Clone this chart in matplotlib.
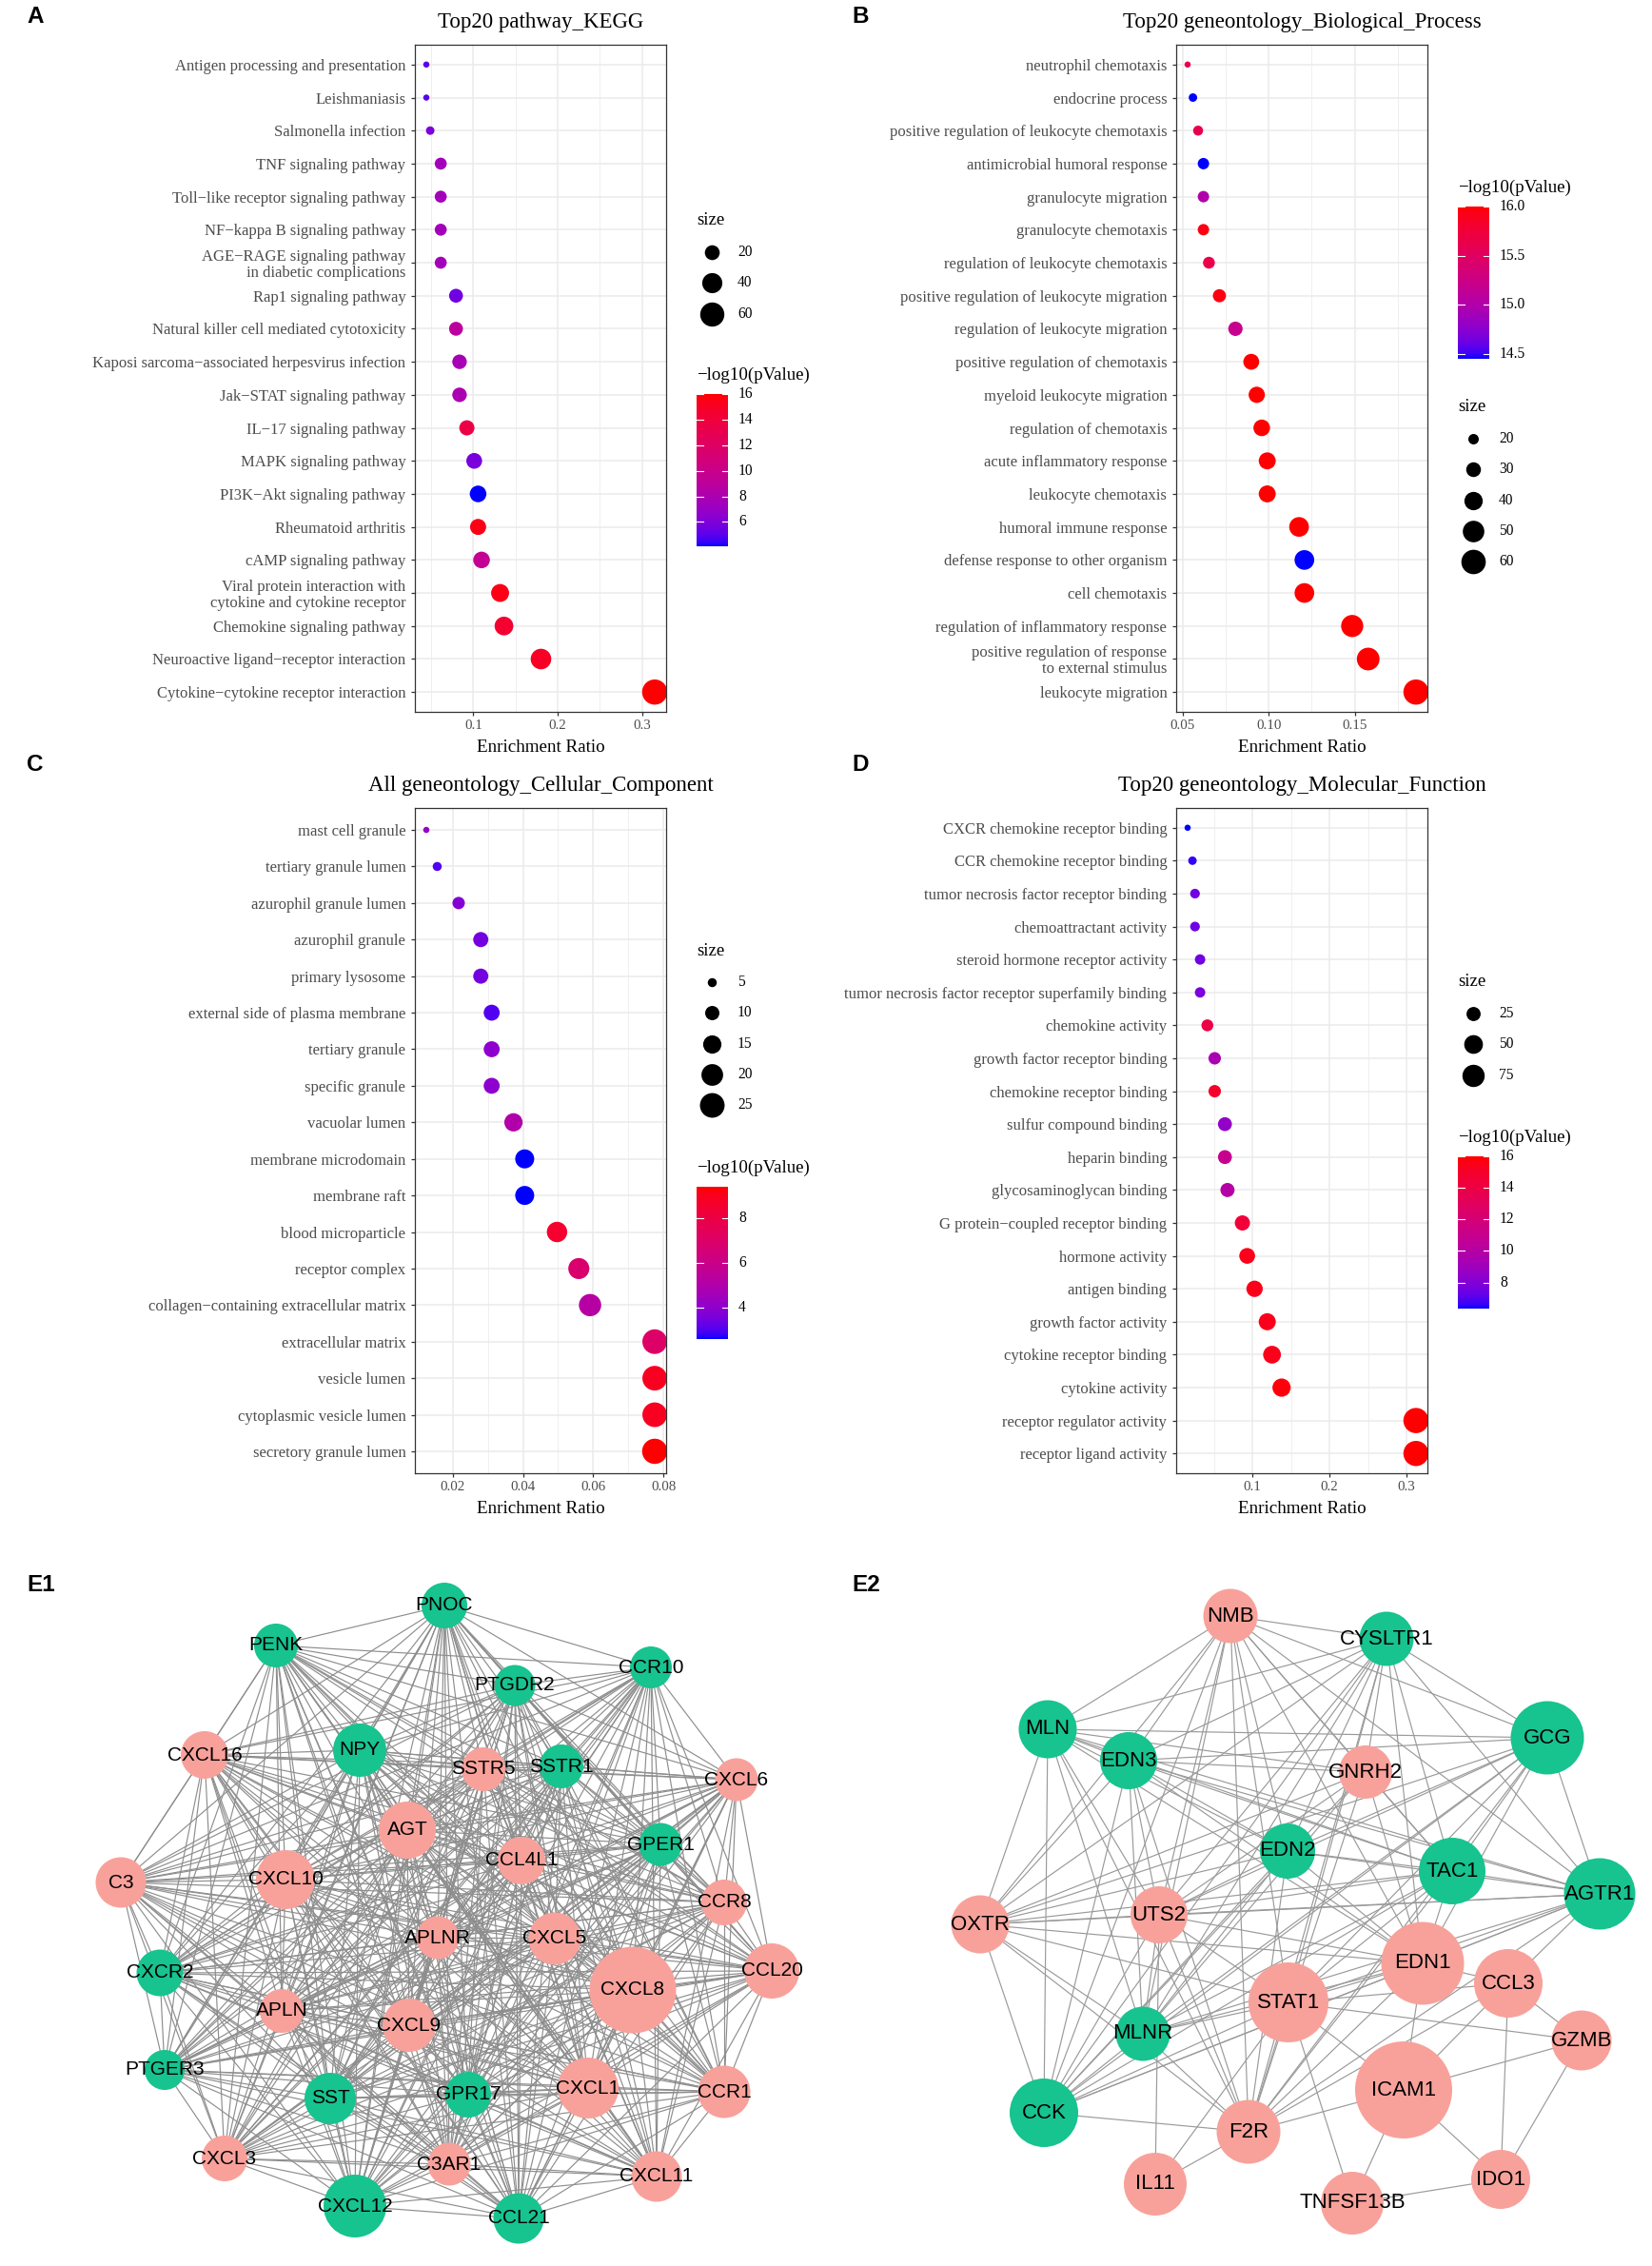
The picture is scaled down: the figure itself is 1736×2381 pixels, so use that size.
import itertools
import numpy as np
import matplotlib
matplotlib.use("Agg")
import matplotlib.pyplot as plt
from matplotlib.colors import ListedColormap, Normalize
from matplotlib.collections import LineCollection
from matplotlib.patches import Circle

W, H = 1736, 2381
DPI = 100
SERIF = "Liberation Serif"
SANS = "Liberation Sans"
plt.rcParams["font.family"] = [SERIF, "DejaVu Serif"]

# ---------------- A: KEGG ----------------
kegg_terms = ["Antigen processing and presentation", "Leishmaniasis", "Salmonella infection",
              "TNF signaling pathway", "Toll\u2212like receptor signaling pathway",
              "NF\u2212kappa B signaling pathway",
              "AGE\u2212RAGE signaling pathway\nin diabetic complications",
              "Rap1 signaling pathway", "Natural killer cell mediated cytotoxicity",
              "Kaposi sarcoma\u2212associated herpesvirus infection", "Jak\u2212STAT signaling pathway",
              "IL\u221217 signaling pathway", "MAPK signaling pathway", "PI3K\u2212Akt signaling pathway",
              "Rheumatoid arthritis", "cAMP signaling pathway",
              "Viral protein interaction with\ncytokine and cytokine receptor",
              "Chemokine signaling pathway", "Neuroactive ligand\u2212receptor interaction",
              "Cytokine\u2212cytokine receptor interaction"]
kegg_ratio = [0.0443, 0.0443, 0.0489, 0.0614, 0.0614, 0.0614, 0.0614, 0.0795, 0.0795, 0.0837,
              0.0837, 0.0924, 0.1011, 0.1057, 0.1057, 0.1098, 0.1318, 0.1364, 0.1803, 0.3152]
kegg_size = [2, 2, 5, 12, 12, 12, 12, 17, 17, 19, 19, 21, 23, 26, 24, 26, 31, 34, 42, 66]
kegg_logp = [5.0, 5.0, 6.0, 7.5, 7.5, 7.5, 7.5, 5.5, 9.0, 7.8,
             8.0, 13.5, 5.8, 4.1, 15.5, 9.5, 15.5, 14.5, 15.0, 16.0]

# ---------------- B: Biological process ----------------
bp_terms = ["neutrophil chemotaxis", "endocrine process",
            "positive regulation of leukocyte chemotaxis", "antimicrobial humoral response",
            "granulocyte migration", "granulocyte chemotaxis", "regulation of leukocyte chemotaxis",
            "positive regulation of leukocyte migration", "regulation of leukocyte migration",
            "positive regulation of chemotaxis", "myeloid leukocyte migration",
            "regulation of chemotaxis", "acute inflammatory response", "leukocyte chemotaxis",
            "humoral immune response", "defense response to other organism", "cell chemotaxis",
            "regulation of inflammatory response",
            "positive regulation of response\nto external stimulus", "leukocyte migration"]
bp_ratio = [0.0528, 0.0559, 0.0589, 0.0620, 0.0620, 0.0620, 0.0652, 0.0713, 0.0806, 0.0898,
            0.0930, 0.0959, 0.0991, 0.0991, 0.1176, 0.1207, 0.1207, 0.1485, 0.1578, 0.1856]
bp_size = [12, 16, 19, 22, 22, 22, 23, 26, 29, 33, 34, 35, 36, 36, 44, 44, 44, 52, 54, 63]
bp_logp = [15.6, 14.45, 15.6, 14.45, 15.0, 15.95, 15.65, 15.95, 15.2, 16.0,
           16.0, 16.0, 16.0, 16.0, 16.0, 14.45, 16.0, 16.0, 16.0, 16.0]

# ---------------- C: Cellular component ----------------
cc_terms = ["mast cell granule", "tertiary granule lumen", "azurophil granule lumen",
            "azurophil granule", "primary lysosome", "external side of plasma membrane",
            "tertiary granule", "specific granule", "vacuolar lumen", "membrane microdomain",
            "membrane raft", "blood microparticle", "receptor complex",
            "collagen\u2212containing extracellular matrix", "extracellular matrix",
            "vesicle lumen", "cytoplasmic vesicle lumen", "secretory granule lumen"]
cc_ratio = [0.0125, 0.0156, 0.0217, 0.0280, 0.0280, 0.0311, 0.0311, 0.0311, 0.0373, 0.0405,
            0.0405, 0.0497, 0.0559, 0.0591, 0.0775, 0.0775, 0.0775, 0.0775]
cc_size = [3, 5, 8, 11, 11, 12, 12, 12, 15, 16, 16, 18, 19, 21, 25, 25, 25, 26]
cc_logp = [4.2, 3.0, 3.8, 3.5, 3.5, 3.0, 4.0, 4.0, 5.0, 2.6,
           2.6, 8.6, 6.8, 5.2, 7.0, 8.9, 8.9, 9.4]

# ---------------- D: Molecular function ----------------
mf_terms = ["CXCR chemokine receptor binding", "CCR chemokine receptor binding",
            "tumor necrosis factor receptor binding", "chemoattractant activity",
            "steroid hormone receptor activity",
            "tumor necrosis factor receptor superfamily binding", "chemokine activity",
            "growth factor receptor binding", "chemokine receptor binding",
            "sulfur compound binding", "heparin binding", "glycosaminoglycan binding",
            "G protein\u2212coupled receptor binding", "hormone activity", "antigen binding",
            "growth factor activity", "cytokine receptor binding", "cytokine activity",
            "receptor regulator activity", "receptor ligand activity"]
mf_ratio = [0.0156, 0.0219, 0.0252, 0.0252, 0.0318, 0.0318, 0.0413, 0.0508, 0.0508, 0.0641,
            0.0641, 0.0674, 0.0868, 0.0930, 0.1026, 0.1191, 0.1253, 0.1377, 0.3124, 0.3124]
mf_size = [2, 6, 9, 9, 11, 11, 16, 18, 18, 24, 24, 25, 30, 33, 36, 40, 44, 47, 100, 100]
mf_logp = [6.35, 6.6, 7.5, 7.5, 7.5, 7.8, 14.0, 9.5, 15.0, 8.5,
           11.0, 10.0, 14.5, 15.5, 15.5, 15.5, 15.5, 15.8, 16.0, 16.0]

# ---------------- E1 network ----------------
e1_names = ["PNOC", "PENK", "CCR10", "PTGDR2", "CXCL16", "NPY", "SSTR5", "SSTR1", "CXCL6", "AGT",
            "GPER1", "CCL4L1", "C3", "CXCL10", "CCR8", "APLNR", "CXCL5", "CXCL8", "CCL20", "CXCR2",
            "APLN", "CXCL9", "PTGER3", "SST", "GPR17", "CXCL1", "CCR1", "CXCL3", "C3AR1", "CXCL11",
            "CXCL12", "CCL21"]
e1_x = [467, 290, 684, 541, 215, 378, 508, 590, 774, 428, 694, 548, 127, 300, 761, 460, 583, 665,
        811, 168, 296, 430, 173, 347, 492, 618, 761, 236, 472, 690, 373, 545]
e1_y = [1687, 1729, 1752, 1771, 1844, 1839, 1859, 1856, 1870, 1923, 1938, 1955, 1978, 1975, 1999,
        2036, 2037, 2091, 2071, 2073, 2113, 2128, 2175, 2205, 2201, 2194, 2198, 2268, 2274, 2287,
        2318, 2331]
e1_diam = [48, 46, 44, 43, 50, 56, 46, 46, 45, 60, 45, 50, 53, 62, 48, 45, 55, 91, 58, 49, 46, 56,
           42, 54, 48, 64, 55, 48, 45, 53, 66, 53]
e1_green = ["PNOC", "PENK", "CCR10", "PTGDR2", "NPY", "SSTR1", "GPER1", "CXCR2", "PTGER3", "SST",
            "GPR17", "CXCL12", "CCL21"]
# E1 is so dense that it is drawn as fully connected

# ---------------- E2 network ----------------
e2_names = ["NMB", "CYSLTR1", "MLN", "EDN3", "GCG", "GNRH2", "EDN2", "TAC1", "AGTR1", "OXTR",
            "UTS2", "EDN1", "CCL3", "STAT1", "GZMB", "MLNR", "ICAM1", "CCK", "F2R", "IL11",
            "TNFSF13B", "IDO1"]
e2_x = [1293, 1457, 1101, 1186, 1626, 1435, 1353, 1526, 1681, 1030, 1218, 1495, 1585, 1354, 1662,
        1201, 1475, 1097, 1312, 1214, 1421, 1577]
e2_y = [1698, 1722, 1817, 1850, 1826, 1862, 1945, 1966, 1990, 2022, 2012, 2063, 2084, 2104, 2144,
        2137, 2196, 2220, 2240, 2295, 2315, 2290]
e2_diam = [57, 57, 61, 60, 77, 56, 58, 70, 75, 61, 60, 87, 72, 84, 63, 57, 102, 72, 67, 66, 66, 62]
e2_green = ["CYSLTR1", "MLN", "EDN3", "GCG", "EDN2", "TAC1", "AGTR1", "MLNR", "CCK"]
e2_edges = [
    ("NMB", "MLN"), ("NMB", "EDN3"), ("NMB", "OXTR"), ("NMB", "CCK"), ("NMB", "MLNR"), ("NMB", "UTS2"),
    ("NMB", "F2R"), ("NMB", "EDN2"), ("NMB", "STAT1"), ("NMB", "EDN1"), ("NMB", "TAC1"),
    ("NMB", "GNRH2"), ("NMB", "CYSLTR1"), ("NMB", "GCG"), ("NMB", "AGTR1"),
    ("CYSLTR1", "MLN"), ("CYSLTR1", "EDN3"), ("CYSLTR1", "OXTR"), ("CYSLTR1", "UTS2"),
    ("CYSLTR1", "MLNR"), ("CYSLTR1", "CCK"), ("CYSLTR1", "F2R"), ("CYSLTR1", "EDN2"),
    ("CYSLTR1", "STAT1"), ("CYSLTR1", "EDN1"), ("CYSLTR1", "TAC1"), ("CYSLTR1", "AGTR1"),
    ("CYSLTR1", "GCG"), ("CYSLTR1", "GNRH2"),
    ("MLN", "EDN3"), ("MLN", "GCG"), ("MLN", "GNRH2"), ("MLN", "TAC1"), ("MLN", "AGTR1"),
    ("MLN", "EDN2"), ("MLN", "OXTR"), ("MLN", "CCK"), ("MLN", "MLNR"), ("MLN", "UTS2"),
    ("MLN", "F2R"), ("MLN", "EDN1"),
    ("EDN3", "GCG"), ("EDN3", "TAC1"), ("EDN3", "AGTR1"), ("EDN3", "EDN1"), ("EDN3", "OXTR"),
    ("EDN3", "CCK"), ("EDN3", "MLNR"), ("EDN3", "UTS2"), ("EDN3", "F2R"), ("EDN3", "EDN2"),
    ("EDN3", "GNRH2"),
    ("GCG", "OXTR"), ("GCG", "UTS2"), ("GCG", "MLNR"), ("GCG", "CCK"), ("GCG", "F2R"),
    ("GCG", "EDN2"), ("GCG", "TAC1"), ("GCG", "AGTR1"), ("GCG", "EDN1"), ("GCG", "STAT1"),
    ("GNRH2", "OXTR"), ("GNRH2", "MLNR"), ("GNRH2", "CCK"), ("GNRH2", "F2R"), ("GNRH2", "TAC1"),
    ("GNRH2", "EDN1"), ("GNRH2", "UTS2"),
    ("EDN2", "OXTR"), ("EDN2", "UTS2"), ("EDN2", "MLNR"), ("EDN2", "CCK"), ("EDN2", "TAC1"),
    ("EDN2", "AGTR1"), ("EDN2", "EDN1"), ("EDN2", "F2R"),
    ("TAC1", "OXTR"), ("TAC1", "UTS2"), ("TAC1", "MLNR"), ("TAC1", "CCK"), ("TAC1", "F2R"),
    ("TAC1", "AGTR1"), ("TAC1", "EDN1"), ("TAC1", "STAT1"),
    ("AGTR1", "OXTR"), ("AGTR1", "UTS2"), ("AGTR1", "MLNR"), ("AGTR1", "CCK"), ("AGTR1", "F2R"),
    ("AGTR1", "EDN1"), ("AGTR1", "CCL3"), ("AGTR1", "STAT1"),
    ("OXTR", "UTS2"), ("OXTR", "EDN1"), ("OXTR", "MLNR"), ("OXTR", "CCK"), ("OXTR", "STAT1"),
    ("OXTR", "F2R"),
    ("UTS2", "MLNR"), ("UTS2", "CCK"), ("UTS2", "F2R"), ("UTS2", "EDN1"), ("UTS2", "IL11"),
    ("UTS2", "STAT1"),
    ("EDN1", "STAT1"), ("EDN1", "CCL3"), ("EDN1", "ICAM1"), ("EDN1", "F2R"), ("EDN1", "MLNR"),
    ("EDN1", "CCK"),
    ("STAT1", "ICAM1"), ("STAT1", "F2R"), ("STAT1", "MLNR"), ("STAT1", "GZMB"),
    ("STAT1", "TNFSF13B"), ("STAT1", "CCL3"), ("STAT1", "IL11"), ("STAT1", "CCK"),
    ("CCL3", "ICAM1"), ("CCL3", "GZMB"), ("CCL3", "IDO1"), ("CCL3", "F2R"),
    ("GZMB", "ICAM1"), ("GZMB", "IDO1"),
    ("ICAM1", "F2R"), ("ICAM1", "IDO1"), ("ICAM1", "TNFSF13B"),
    ("F2R", "IL11"), ("F2R", "CCK"), ("F2R", "MLNR"),
    ("IDO1", "TNFSF13B"), ("MLNR", "CCK"),
]

PINK = "#F8A19B"
GREEN = "#17C38F"


# ggplot-like blue -> red gradient interpolated in Lab space
def srgb_to_lab(rgb):
    rgb = np.asarray(rgb, float)
    lin = np.where(rgb <= 0.04045, rgb / 12.92, ((rgb + 0.055) / 1.055) ** 2.4)
    m = np.array([[0.4124, 0.3576, 0.1805], [0.2126, 0.7152, 0.0722], [0.0193, 0.1192, 0.9505]])
    xyz = m @ lin / np.array([0.95047, 1.0, 1.08883])
    f = np.where(xyz > 0.008856, np.cbrt(xyz), 7.787 * xyz + 16 / 116)
    return np.array([116 * f[1] - 16, 500 * (f[0] - f[1]), 200 * (f[1] - f[2])])


def lab_to_srgb(lab):
    L, a, b = lab
    fy = (L + 16) / 116
    f = np.array([fy + a / 500, fy, fy - b / 200])
    xyz = np.where(f ** 3 > 0.008856, f ** 3, (f - 16 / 116) / 7.787) * np.array([0.95047, 1, 1.08883])
    minv = np.array([[3.2406, -1.5372, -0.4986], [-0.9689, 1.8758, 0.0415], [0.0557, -0.2040, 1.0570]])
    lin = np.clip(minv @ xyz, 0, 1)
    return np.clip(np.where(lin <= 0.0031308, 12.92 * lin, 1.055 * lin ** (1 / 2.4) - 0.055), 0, 1)


lab_lo, lab_hi = srgb_to_lab([0, 0, 1]), srgb_to_lab([1, 0, 0])
CMAP = ListedColormap([lab_to_srgb(lab_lo + t * (lab_hi - lab_lo)) for t in np.linspace(0, 1, 256)])

D_MIN, D_MAX = 6.5, 26.5  # px, like ggplot's size range


def dot_diam(v, vmin, vmax):
    t = (np.sqrt(v) - np.sqrt(vmin)) / (np.sqrt(vmax) - np.sqrt(vmin))
    return D_MIN + t * (D_MAX - D_MIN)


def s_of(d):
    return (np.asarray(d) * 72.0 / DPI) ** 2


fig = plt.figure(figsize=(W / DPI, H / DPI), dpi=DPI)
ov = fig.add_axes([0, 0, 1, 1], zorder=5)
ov.set_axis_off()


def ftext(x, y, s, **kw):
    fig.text(x / W, 1 - y / H, s, **kw)


def size_legend(x0, y0, breaks, vmin, vmax):
    ftext(x0, y0, "size", fontsize=13.6, ha="left", va="center")
    for k, b in enumerate(breaks):
        yy = y0 + 33 + 32.3 * k
        ov.scatter([x0 + 16], [yy], s=s_of(dot_diam(b, vmin, vmax)), color="black", lw=0)
        ftext(x0 + 43, yy, str(b), fontsize=11.2, ha="left", va="center")


def color_legend(x0, y0, vmin, vmax, ticks, labels):
    ftext(x0, y0 - 1, "\u2212log10(pValue)", fontsize=13.6, ha="left", va="center")
    top, bh, bw = y0 + 19, 160, 33
    grad = np.linspace(vmax, vmin, 300)[:, None]
    ov.imshow(grad, extent=(x0, x0 + bw, top + bh, top), cmap=CMAP, vmin=vmin, vmax=vmax,
              aspect="auto", interpolation="bilinear")
    for tv, lab in zip(ticks, labels):
        yy = top + (vmax - tv) / (vmax - vmin) * bh
        ov.plot([x0, x0 + 6.5], [yy, yy], color="white", lw=0.8)
        ov.plot([x0 + bw - 6.5, x0 + bw], [yy, yy], color="white", lw=0.8)
        ftext(x0 + 44, yy, lab, fontsize=11.2, ha="left", va="center")


def dot_panel(rect, title, terms, ratio, size, logp, major, major_lab, minor,
              size_breaks, cb_ticks, cb_labels, size_y, color_y):
    l, t, r, b = rect
    ax = fig.add_axes([l / W, 1 - b / H, (r - l) / W, (b - t) / H])
    n = len(terms)
    ypos = np.arange(n)[::-1]
    lo, hi = min(ratio), max(ratio)
    pad = 0.05 * (hi - lo)
    vmin, vmax = min(size), max(size)
    cmin, cmax = min(logp), max(logp)
    ax.scatter(ratio, ypos, s=s_of(dot_diam(np.array(size), vmin, vmax)), c=logp, cmap=CMAP,
               norm=Normalize(cmin, cmax), linewidths=0, zorder=3)
    ax.set_xlim(lo - pad, hi + pad)
    ax.set_ylim(-0.6, n - 0.4)
    ax.set_xticks(major)
    ax.set_xticklabels(major_lab)
    ax.set_xticks(minor, minor=True)
    ax.set_yticks(ypos)
    ax.set_yticklabels(terms, linespacing=1.08)
    ax.grid(which="major", color="#EBEBEB", lw=1.1)
    ax.grid(which="minor", axis="x", color="#EBEBEB", lw=0.55)
    ax.set_axisbelow(True)
    ax.tick_params(which="major", length=3, width=0.9, color="#333333", labelcolor="#4D4D4D",
                   pad=3)
    ax.tick_params(axis="y", labelsize=12, pad=4)
    ax.tick_params(axis="x", labelsize=10.8)
    ax.tick_params(which="minor", length=0)
    for sp in ax.spines.values():
        sp.set_color("#333333")
        sp.set_linewidth(0.9)
    cx = (l + r) / 2
    ftext(cx, t - 23, title, fontsize=16.5, ha="center", va="center")
    ftext(cx, b + 38, "Enrichment Ratio", fontsize=13.7, ha="center", va="center")
    size_legend(r + 32, size_y, size_breaks, vmin, vmax)
    color_legend(r + 32, color_y, cmin, cmax, cb_ticks, cb_labels)


dot_panel((436, 47, 700, 748), "Top20 pathway_KEGG", kegg_terms, kegg_ratio, kegg_size, kegg_logp,
          [0.1, 0.2, 0.3], ["0.1", "0.2", "0.3"], [0.05, 0.15, 0.25],
          [20, 40, 60], [16, 14, 12, 10, 8, 6], ["16", "14", "12", "10", "8", "6"], 232, 395)
dot_panel((1236, 47, 1500, 748), "Top20 geneontology_Biological_Process", bp_terms, bp_ratio,
          bp_size, bp_logp, [0.05, 0.10, 0.15], ["0.05", "0.10", "0.15"], [0.075, 0.125, 0.175],
          [20, 30, 40, 50, 60], [16.0, 15.5, 15.0, 14.5], ["16.0", "15.5", "15.0", "14.5"], 428, 198)
dot_panel((436, 849, 700, 1548), "All geneontology_Cellular_Component", cc_terms, cc_ratio,
          cc_size, cc_logp, [0.02, 0.04, 0.06, 0.08], ["0.02", "0.04", "0.06", "0.08"],
          [0.03, 0.05, 0.07], [5, 10, 15, 20, 25], [8, 6, 4], ["8", "6", "4"], 999, 1228)
dot_panel((1236, 849, 1500, 1548), "Top20 geneontology_Molecular_Function", mf_terms, mf_ratio,
          mf_size, mf_logp, [0.1, 0.2, 0.3], ["0.1", "0.2", "0.3"], [0.05, 0.15, 0.25],
          [25, 50, 75], [16, 14, 12, 10, 8], ["16", "14", "12", "10", "8"], 1032, 1196)


def network(names, xs, ys, diams, green, edges, fsize, ecolor, ewidth):
    pos = {nm: (x, y) for nm, x, y in zip(names, xs, ys)}
    segs = [[pos[a], pos[b]] for a, b in edges]
    ov.add_collection(LineCollection(segs, colors=ecolor, linewidths=ewidth, zorder=1))
    for nm, x, y, d in zip(names, xs, ys, diams):
        ov.add_patch(Circle((x, y), d / 2, color=GREEN if nm in green else PINK, lw=0, zorder=2))
        ov.text(x, y, nm, fontsize=fsize, family=SANS, ha="center", va="center", zorder=3)


network(e1_names, e1_x, e1_y, e1_diam, e1_green, list(itertools.combinations(e1_names, 2)), 15,
        "#8E8E8E", 0.85)
network(e2_names, e2_x, e2_y, e2_diam, e2_green, e2_edges, 16, "#9A9A9A", 0.85)

for lab, x, y in [("A", 28, 18), ("B", 895, 18), ("C", 28, 803), ("D", 895, 803),
                  ("E1", 28, 1665), ("E2", 895, 1665)]:
    ftext(x, y, lab, fontsize=17.5, family=SANS, weight="bold", ha="left", va="center")

ov.set_xlim(0, W)
ov.set_ylim(H, 0)
fig.savefig("out.png", dpi=DPI)
